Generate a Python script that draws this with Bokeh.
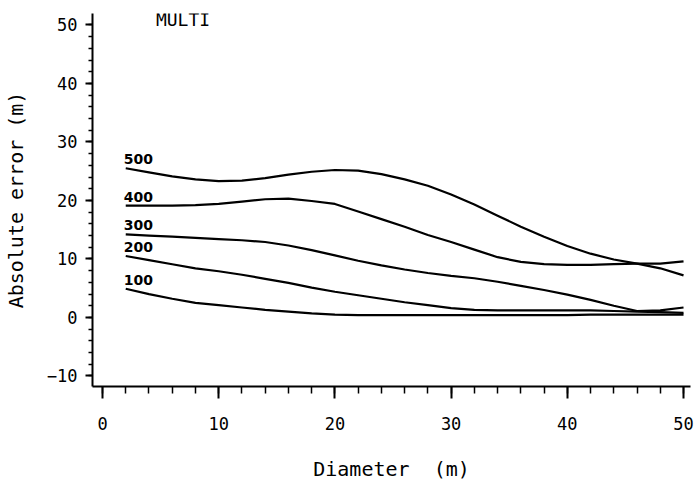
from bokeh.plotting import figure
from bokeh.models import Range1d, SingleIntervalTicker, ColumnDataSource, Label
from bokeh.core.properties import value
from bokeh.embed import file_html
from bokeh.resources import INLINE

# Diameter (m)
diameter = [2, 4, 6, 8, 10, 12, 14, 16, 18, 20, 22, 24, 26,
            28, 30, 32, 34, 36, 38, 40, 42, 44, 46, 48, 50]

# Absolute error (m) for each series
err_100 = [4.9, 4.0, 3.2, 2.5, 2.1, 1.7, 1.3, 1.0, 0.7, 0.5, 0.4, 0.4, 0.4,
           0.4, 0.4, 0.4, 0.4, 0.4, 0.4, 0.4, 0.5, 0.5, 0.5, 0.5, 0.5]
err_200 = [10.5, 9.8, 9.1, 8.4, 7.9, 7.3, 6.6, 5.9, 5.1, 4.4, 3.8, 3.2, 2.6,
           2.1, 1.6, 1.3, 1.2, 1.2, 1.2, 1.2, 1.2, 1.1, 1.0, 0.9, 0.8]
err_300 = [14.2, 14.0, 13.8, 13.6, 13.4, 13.2, 12.9, 12.3, 11.5, 10.6, 9.7, 8.9, 8.2,
           7.6, 7.1, 6.7, 6.1, 5.4, 4.7, 3.9, 3.0, 2.0, 1.1, 1.2, 1.7]
err_400 = [19.1, 19.1, 19.1, 19.2, 19.4, 19.8, 20.2, 20.3, 19.9, 19.4, 18.1, 16.8, 15.5,
           14.1, 12.9, 11.6, 10.3, 9.5, 9.1, 9.0, 9.0, 9.1, 9.2, 9.2, 9.6]
err_500 = [25.5, 24.8, 24.1, 23.6, 23.3, 23.4, 23.8, 24.4, 24.9, 25.2, 25.1, 24.5, 23.6,
           22.5, 21.0, 19.3, 17.4, 15.5, 13.8, 12.2, 10.9, 9.9, 9.2, 8.4, 7.2]

series_names = ["100", "200", "300", "400", "500"]
series_values = [err_100, err_200, err_300, err_400, err_500]

p = figure(width=697, height=484, output_backend="svg", toolbar_location=None,
           x_range=Range1d(-0.86, 50.6), y_range=Range1d(-11.8, 51.95),
           min_border_left=92, min_border_right=7, min_border_top=13,
           min_border_bottom=98)
p.grid.visible = False
p.outline_line_color = None
p.background_fill_color = "white"
p.border_fill_color = "white"

mono = "DejaVu Sans Mono"

p.xaxis.ticker = SingleIntervalTicker(interval=10, num_minor_ticks=5)
p.yaxis.ticker = SingleIntervalTicker(interval=10, num_minor_ticks=5)

for ax in (p.xaxis[0], p.yaxis[0]):
    ax.axis_line_width = 2
    ax.axis_line_color = "black"
    ax.major_tick_line_width = 2
    ax.minor_tick_line_width = 1.5
    ax.major_tick_line_color = "black"
    ax.minor_tick_line_color = "black"
    ax.major_tick_in = 0
    ax.minor_tick_in = 0
    ax.major_label_text_font = mono
    ax.major_label_text_font_size = "17px"
    ax.major_label_text_color = "black"
    ax.axis_label_text_font = mono
    ax.axis_label_text_font_size = "20px"
    ax.axis_label_text_font_style = "normal"
    ax.axis_label_text_color = "black"

p.xaxis.major_tick_out = 12
p.xaxis.minor_tick_out = 7
p.xaxis.major_label_standoff = 18
p.xaxis.axis_label = "Diameter \u00a0(m)"
p.xaxis.axis_label_standoff = 24

p.yaxis.major_tick_out = 7
p.yaxis.minor_tick_out = 4
p.yaxis.major_label_standoff = 8
p.yaxis.axis_label = "Absolute error (m)"
p.yaxis.axis_label_standoff = 16

for name, vals in zip(series_names, series_values):
    p.line(diameter, vals, line_color="black", line_width=2.2)

label_lift = 1.55  # data units above the start of each curve (to text centre)
src = ColumnDataSource(dict(
    x=[diameter[0]] * len(series_names),
    y=[vals[0] + label_lift for vals in series_values],
    t=series_names,
))
p.text(x="x", y="y", text="t", source=src, text_font=value("DejaVu Sans"),
       text_font_style="bold", text_font_size="14px", text_color="black",
       text_align="left", text_baseline="middle", x_offset=-2)

title = Label(x=4.6, y=50.9, text="MULTI", text_font=mono, text_font_size="18px",
              text_color="black", text_baseline="middle", text_align="left")
p.add_layout(title)

open("out.html", "w").write(file_html(p, INLINE))
